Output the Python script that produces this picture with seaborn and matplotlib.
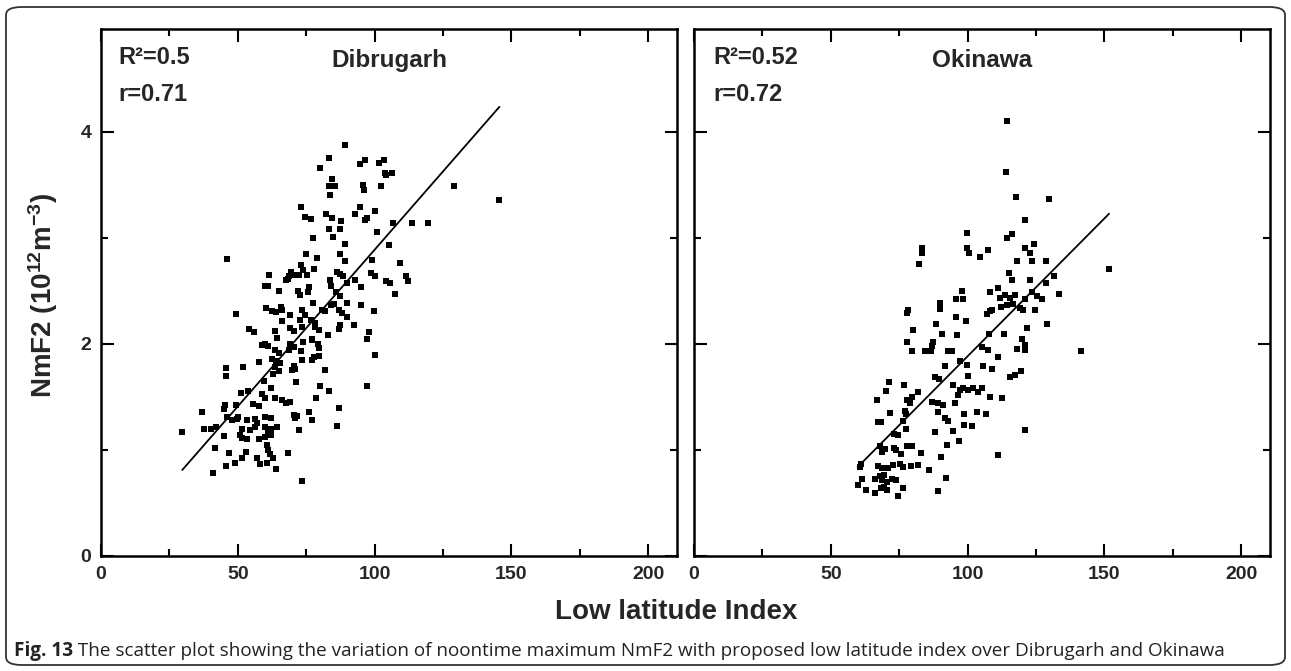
import numpy as np
import pandas as pd
import matplotlib
matplotlib.use("Agg")
import matplotlib.pyplot as plt
from matplotlib.patches import FancyBboxPatch
from matplotlib.ticker import MultipleLocator
import seaborn as sns

# ---------------- data ----------------
dib_x = [89.3, 83.2, 80.1, 94.8, 96.6, 101.5, 103.3, 103.9, 106.3, 104.1, 84.6, 83.4, 85.6, 95.6, 96.1,
         102.4, 83.7, 128.9, 73.2, 74.6, 76.6, 82.4, 84.4, 87.6, 94.8, 92.9, 100.0, 96.6, 97.2, 106.6,
         113.7, 119.4, 83.2, 87.3, 84.9, 77.4, 100.7, 89.3, 105.4, 46.0, 75.1, 79.1, 87.4, 89.3, 99.0,
         109.1, 61.5, 69.5, 70.4, 68.8, 73.2, 73.7, 72.2, 75.2, 78.0, 67.6, 68.5, 60.0, 61.2, 64.9,
         71.9, 72.8, 76.1, 75.6, 83.7, 84.0, 86.1, 87.4, 88.3, 89.9, 92.9, 95.1, 98.8, 100.2, 104.1,
         105.7, 111.5, 112.1, 107.6, 85.9, 87.4, 77.3, 60.2, 62.4, 63.9, 65.6, 66.3, 49.3, 69.1, 66.3,
         73.4, 72.6, 74.6, 76.6, 78.3, 80.7, 82.0, 83.9, 85.0, 86.8, 89.9, 95.1, 99.6, 88.0, 89.9,
         92.3, 54.1, 55.9, 63.7, 64.3, 69.1, 70.4, 73.4, 78.3, 79.5, 82.9, 86.8, 87.4, 98.0, 77.1,
         97.2, 145.6,
         59.8, 61.0, 58.8, 63.7, 64.9, 62.4, 63.9, 69.1, 70.4, 68.8, 74.0, 77.1, 79.3, 79.5, 73.2,
         77.7, 79.8, 77.1, 100.2, 73.4, 65.5, 63.7, 64.9, 63.0, 70.4, 69.8, 71.0, 57.8, 45.7, 45.6,
         51.8, 71.2, 81.9, 59.4, 62.2, 80.2, 83.3, 97.1, 51.1, 53.7, 58.8, 60.0, 63.7, 66.1, 67.6,
         69.1, 78.5, 45.4, 44.8, 49.3, 55.4, 57.6, 36.8, 86.8, 75.9, 77.1, 70.4, 71.6, 71.0, 46.0,
         47.8, 49.6, 50.2, 53.3, 56.1, 56.9, 59.8, 62.2, 29.7, 37.8, 40.2, 41.9, 45.1, 51.7, 54.5,
         56.3, 60.0, 62.2, 64.3, 61.0, 62.2, 72.2, 86.3, 50.8, 51.7, 53.3, 57.8, 60.0, 41.7, 46.6,
         53.0, 60.6, 61.2, 61.8, 62.7, 68.5, 56.9, 58.2, 60.6, 51.7, 49.0, 45.7, 41.1, 64.0, 73.4]
dib_y = [3.88, 3.75, 3.66, 3.70, 3.73, 3.71, 3.73, 3.61, 3.61, 3.59, 3.56, 3.49, 3.49, 3.50, 3.45,
         3.49, 3.40, 3.49, 3.29, 3.20, 3.18, 3.23, 3.19, 3.16, 3.29, 3.23, 3.25, 3.17, 3.19, 3.14,
         3.14, 3.14, 3.08, 3.08, 3.01, 3.00, 3.06, 2.94, 2.93, 2.80, 2.85, 2.81, 2.85, 2.78, 2.79,
         2.76, 2.65, 2.68, 2.65, 2.64, 2.74, 2.70, 2.65, 2.65, 2.71, 2.60, 2.61, 2.55, 2.55, 2.50,
         2.50, 2.46, 2.54, 2.49, 2.60, 2.55, 2.68, 2.66, 2.64, 2.57, 2.60, 2.54, 2.67, 2.64, 2.59,
         2.57, 2.64, 2.59, 2.47, 2.49, 2.45, 2.39, 2.34, 2.31, 2.30, 2.35, 2.32, 2.28, 2.27, 2.22,
         2.32, 2.23, 2.27, 2.23, 2.20, 2.32, 2.31, 2.37, 2.38, 2.32, 2.39, 2.37, 2.31, 2.29, 2.25,
         2.18, 2.14, 2.11, 2.12, 2.06, 2.15, 2.12, 2.16, 2.16, 2.13, 2.08, 2.14, 2.18, 2.11, 2.05,
         2.05, 3.36,
         2.00, 1.98, 1.99, 1.94, 1.91, 1.86, 1.84, 2.00, 1.97, 1.94, 2.02, 2.04, 2.00, 1.96, 1.93,
         1.88, 1.89, 1.85, 1.90, 1.85, 1.82, 1.78, 1.74, 1.72, 1.79, 1.75, 1.76, 1.83, 1.77, 1.70,
         1.78, 1.64, 1.75, 1.65, 1.58, 1.60, 1.56, 1.60, 1.54, 1.56, 1.53, 1.49, 1.49, 1.47, 1.44,
         1.45, 1.49, 1.42, 1.39, 1.42, 1.43, 1.41, 1.36, 1.40, 1.36, 1.28, 1.33, 1.32, 1.30, 1.31,
         1.28, 1.29, 1.31, 1.28, 1.29, 1.25, 1.31, 1.30, 1.17, 1.20, 1.20, 1.22, 1.13, 1.20, 1.19,
         1.22, 1.22, 1.20, 1.22, 1.16, 1.14, 1.19, 1.23, 1.14, 1.11, 1.10, 1.10, 1.12, 1.02, 0.97,
         0.98, 1.05, 1.00, 0.96, 0.92, 0.97, 0.92, 0.87, 0.88, 0.92, 0.88, 0.85, 0.78, 0.82, 0.71]

oki_x = [114.5, 114.0, 117.6, 129.8, 121.0, 99.8, 116.1, 114.5, 83.5, 83.5, 82.4, 99.8, 100.5, 107.6,
         104.6, 121.0, 122.9, 124.3, 118.0, 123.7, 128.5, 151.7, 115.1, 116.3, 122.9, 131.5, 128.7,
         97.8, 95.7, 98.4, 89.8, 108.0, 111.0, 111.8, 113.7, 115.5, 117.3, 123.4, 125.2, 127.1, 133.4,
         121.0,
         112.2, 114.3, 116.7, 119.1, 120.4, 124.6, 89.9, 78.3, 78.0, 95.7, 99.3, 88.4, 107.0, 108.2,
         108.8, 129.0, 121.8, 80.1, 90.5, 96.0, 107.8, 113.2, 119.8, 121.0, 121.0, 77.8, 87.4, 87.1,
         79.5, 84.4, 86.6, 92.9, 94.4, 105.1, 107.6, 111.2, 117.9, 141.5, 97.2, 99.6, 91.7, 105.7,
         108.8, 115.5, 117.3, 119.5, 88.0, 89.5, 100.2, 71.3, 76.8, 94.8, 97.2, 98.4, 100.2, 102.1,
         103.9, 105.1, 96.6, 70.1, 81.7, 66.7, 78.0, 79.5, 78.9, 86.8, 89.3, 91.1, 95.4, 108.2,
         112.4, 77.1, 77.3, 71.6, 89.0, 98.8, 103.3, 106.6, 67.1, 68.5, 76.5, 91.7, 92.9, 98.7,
         101.5, 77.4, 94.8, 121.0, 88.0, 74.6, 73.2, 96.8, 68.0, 69.8, 68.8, 73.2, 74.0, 78.0,
         79.5, 75.6, 82.9, 92.6, 111.2, 61.2, 60.6, 67.3, 68.8, 71.0, 72.8, 75.2, 76.5, 79.3,
         81.7, 86.0, 90.2, 61.5, 59.8, 66.1, 68.0, 69.5, 68.8, 70.4, 69.5, 68.3, 70.4, 72.2,
         73.7, 63.0, 66.3, 74.4, 76.5, 92.1, 89.0]
oki_y = [4.10, 3.62, 3.39, 3.37, 3.17, 3.05, 3.04, 3.00, 2.90, 2.86, 2.75, 2.90, 2.86, 2.89,
         2.82, 2.90, 2.86, 2.94, 2.78, 2.78, 2.78, 2.71, 2.67, 2.60, 2.60, 2.64, 2.57,
         2.50, 2.42, 2.42, 2.39, 2.49, 2.53, 2.43, 2.46, 2.43, 2.46, 2.49, 2.45, 2.42, 2.47,
         2.42,
         2.35, 2.37, 2.38, 2.34, 2.32, 2.32, 2.33, 2.32, 2.29, 2.25, 2.22, 2.19, 2.28, 2.31,
         2.32, 2.19, 2.15, 2.13, 2.09, 2.08, 2.09, 2.09, 2.05, 1.99, 1.94, 2.02, 2.02, 1.98,
         1.93, 1.93, 1.93, 1.93, 1.93, 1.97, 1.94, 1.88, 1.95, 1.93, 1.84, 1.80, 1.79, 1.79,
         1.76, 1.69, 1.71, 1.74, 1.69, 1.67, 1.70, 1.64, 1.61, 1.61, 1.57, 1.58, 1.57, 1.58,
         1.55, 1.58, 1.52, 1.56, 1.55, 1.47, 1.47, 1.50, 1.44, 1.45, 1.44, 1.42, 1.44, 1.50,
         1.49, 1.37, 1.34, 1.35, 1.36, 1.34, 1.36, 1.34, 1.26, 1.26, 1.27, 1.30, 1.27, 1.24,
         1.23, 1.20, 1.18, 1.19, 1.17, 1.14, 1.15, 1.08, 1.04, 1.01, 0.98, 1.02, 1.00, 1.04,
         1.04, 0.96, 0.97, 1.05, 0.95, 0.87, 0.84, 0.85, 0.83, 0.83, 0.86, 0.87, 0.84, 0.85,
         0.86, 0.81, 0.93, 0.73, 0.67, 0.73, 0.75, 0.76, 0.72, 0.70, 0.65, 0.64, 0.62, 0.73,
         0.72, 0.62, 0.59, 0.57, 0.64, 0.74, 0.61]

# regression lines (slope, intercept)
dib_fit = (0.02955, -0.0665)
oki_fit = (0.0260, -0.716)

stations = ["Dibrugarh", "Okinawa"]
r2_labels = ["R²=0.5", "R²=0.52"]
r_labels = ["r=0.71", "r=0.72"]
x_ticks = [0, 50, 100, 150, 200]
y_ticks = [0, 2, 4]
caption_bold = "Fig. 13"
caption_text = " The scatter plot showing the variation of noontime maximum NmF2 with proposed low latitude index over Dibrugarh and Okinawa"

# ---------------- style ----------------
sns.set_style("white")
plt.rcParams["font.family"] = ["Liberation Sans", "DejaVu Sans"]
plt.rcParams["mathtext.fontset"] = "custom"
plt.rcParams["mathtext.rm"] = "Liberation Sans:bold"
plt.rcParams["mathtext.bf"] = "Liberation Sans:bold"
plt.rcParams["mathtext.it"] = "Liberation Sans:bold"
plt.rcParams["mathtext.default"] = "bf"

W, H = 1291, 671
fig = plt.figure(figsize=(W / 100, H / 100), dpi=100)
fig.patch.set_facecolor("white")

# outer rounded frame
frame = FancyBboxPatch((6 / W, 6 / H), (W - 12) / W, (H - 13) / H,
                       boxstyle="round,pad=0,rounding_size=0.012",
                       transform=fig.transFigure, fill=False,
                       edgecolor="#333333", linewidth=1.3)
fig.patches.append(frame)

ax_h = 527 / H
ax_b = (H - 556) / H
ax_w = 576 / W
axes = [fig.add_axes([101 / W, ax_b, ax_w, ax_h]),
        fig.add_axes([694 / W, ax_b, ax_w, ax_h])]

datasets = [(dib_x, dib_y, dib_fit), (oki_x, oki_y, oki_fit)]
text_x = [0.030, 0.034]

for i, (ax, (xs, ys, fit)) in enumerate(zip(axes, datasets)):
    df = pd.DataFrame({"x": xs, "y": ys})
    sns.scatterplot(data=df, x="x", y="y", ax=ax, marker="s", s=14,
                    color="black", linewidth=0, legend=False, zorder=3)
    xl = np.array([df["x"].min(), df["x"].max()])
    line_df = pd.DataFrame({"x": xl, "y": fit[0] * xl + fit[1]})
    sns.lineplot(data=line_df, x="x", y="y", ax=ax, color="black", linewidth=1.3, zorder=2)

    ax.set_xlim(0, 210.5)
    ax.set_ylim(0, 4.97)
    ax.set_xlabel("")
    ax.set_ylabel("")
    ax.set_xticks(x_ticks)
    ax.set_yticks(y_ticks)
    ax.xaxis.set_minor_locator(MultipleLocator(25))
    ax.yaxis.set_minor_locator(MultipleLocator(1))
    ax.tick_params(which="both", direction="in", top=True, right=True,
                   bottom=True, left=True, width=1.5, color="black")
    ax.tick_params(which="major", length=9)
    ax.tick_params(which="minor", length=5)
    ax.tick_params(axis="both", which="major", labelsize=14, pad=7)
    for lab in ax.get_xticklabels() + ax.get_yticklabels():
        lab.set_fontweight("bold")
    if i == 1:
        ax.tick_params(axis="y", labelleft=False)
    for sp in ax.spines.values():
        sp.set_visible(True)
        sp.set_linewidth(1.8)
        sp.set_color("black")

    ax.text(text_x[i], 0.934, r2_labels[i], transform=ax.transAxes, fontsize=17,
            fontweight="bold", ha="left", va="baseline")
    ax.text(text_x[i], 0.863, r_labels[i], transform=ax.transAxes, fontsize=17,
            fontweight="bold", ha="left", va="baseline")
    ax.text(0.5, 0.927, stations[i], transform=ax.transAxes, fontsize=17.5,
            fontweight="bold", ha="center", va="baseline")

fig.text(43 / W, 1 - 295 / H, "NmF2 (10$^{12}$m$^{-3}$)", rotation=90,
         fontsize=20, fontweight="bold", ha="center", va="center")
fig.text(676 / W, 1 - 612 / H, "Low latitude Index", fontsize=20,
         fontweight="bold", ha="center", va="center")

t1 = fig.text(14 / W, 1 - 651 / H, caption_bold, fontsize=13.6, fontweight="bold",
              family=["Open Sans", "DejaVu Sans"], ha="left", va="center", color="#222222")
fig.canvas.draw()
bb = t1.get_window_extent()
fig.text(bb.x1 / W, 1 - 651 / H, caption_text, fontsize=13.6,
         family=["Open Sans", "DejaVu Sans"], ha="left", va="center", color="#222222")

fig.savefig("out.png", dpi=100, facecolor="white")
